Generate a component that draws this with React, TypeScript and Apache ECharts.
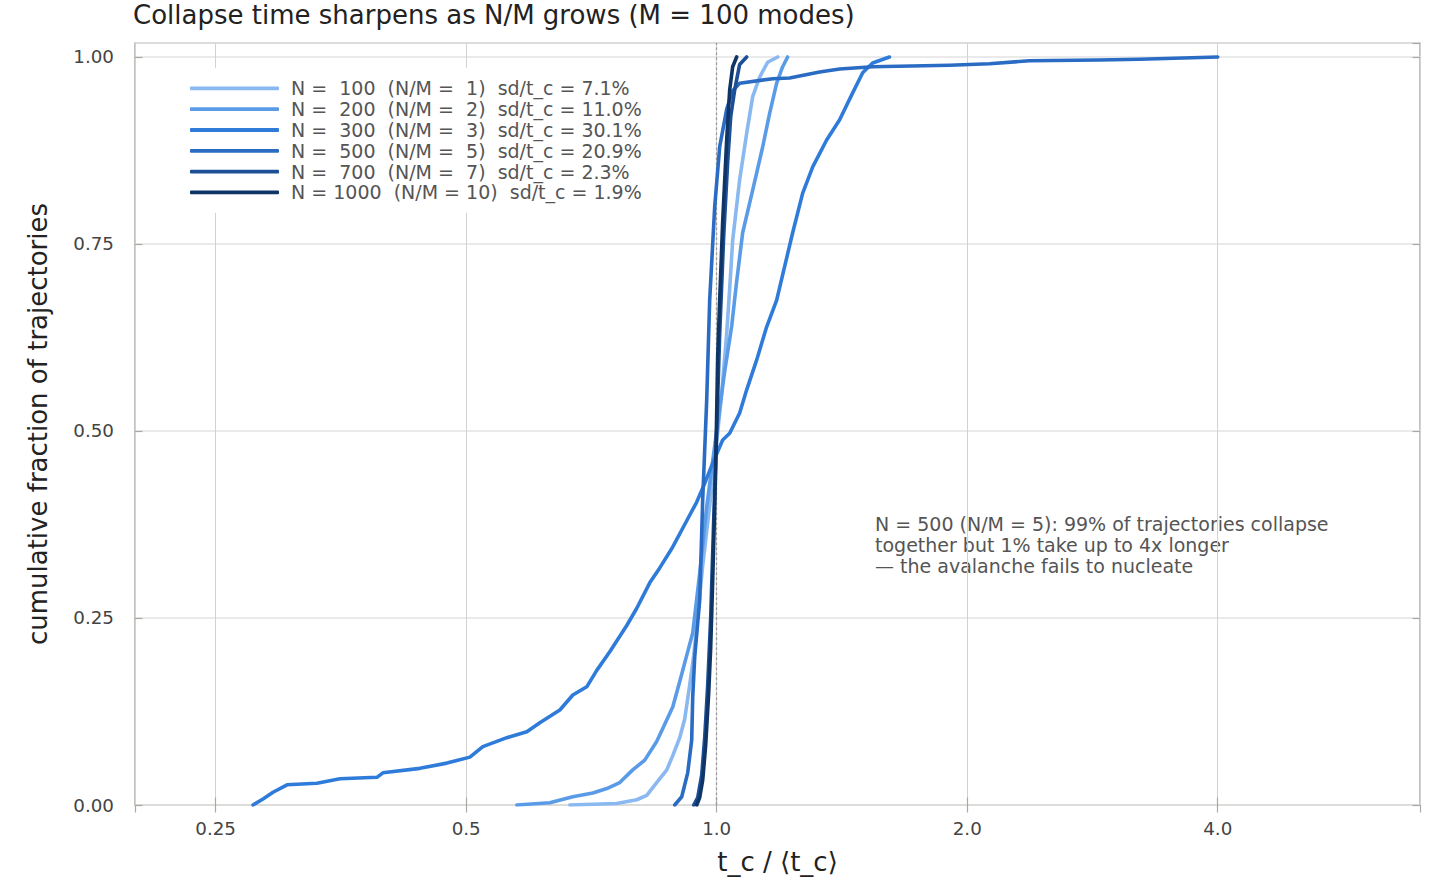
import React, { useEffect, useRef } from "react";
import * as echarts from "echarts";

const FONT = "DejaVu Sans";

const seriesNames = [
  "N =  100  (N/M =  1)  sd/t_c = 7.1%",
  "N =  200  (N/M =  2)  sd/t_c = 11.0%",
  "N =  300  (N/M =  3)  sd/t_c = 30.1%",
  "N =  500  (N/M =  5)  sd/t_c = 20.9%",
  "N =  700  (N/M =  7)  sd/t_c = 2.3%",
  "N = 1000  (N/M = 10)  sd/t_c = 1.9%",
];
const seriesColors = ["#8ab8f0", "#5a9be8", "#2f7bd9", "#2a6cc4", "#1c4f95", "#0f3566"];

// t_c / <t_c> values and cumulative fractions
const n100T = [0.666, 0.758, 0.8016, 0.824, 0.847, 0.871, 0.8855, 0.9028, 0.9153, 0.928, 0.9384, 0.9462, 0.962, 0.9808, 0.9945, 1.0139, 1.028, 1.0366, 1.0452, 1.0656, 1.0865, 1.1047, 1.1262, 1.1514, 1.1838];
const n100F = [0, 0.002, 0.007, 0.013, 0.03, 0.047, 0.066, 0.09, 0.115, 0.16, 0.2, 0.238, 0.32, 0.4, 0.46, 0.55, 0.63, 0.69, 0.755, 0.836, 0.898, 0.947, 0.973, 0.993, 1.0];

const n200T = [0.5752, 0.6302, 0.6716, 0.7098, 0.7378, 0.7648, 0.7927, 0.8195, 0.847, 0.8661, 0.8855, 0.9028, 0.9204, 0.9358, 0.9541, 0.9727, 0.989, 1.0083, 1.0224, 1.0423, 1.0568, 1.0745, 1.1047, 1.1358, 1.1579, 1.1805, 1.2002, 1.2168];
const n200F = [0, 0.003, 0.011, 0.016, 0.022, 0.03, 0.047, 0.06, 0.085, 0.108, 0.131, 0.165, 0.2, 0.23, 0.31, 0.398, 0.46, 0.53, 0.58, 0.64, 0.7, 0.765, 0.822, 0.88, 0.925, 0.965, 0.987, 1.0];

const n300T = [0.2772, 0.285, 0.293, 0.3046, 0.3309, 0.3526, 0.3906, 0.3971, 0.4399, 0.474, 0.5052, 0.5236, 0.5596, 0.5914, 0.613, 0.6479, 0.6716, 0.698, 0.7176, 0.7439, 0.7797, 0.8016, 0.8309, 0.8542, 0.8855, 0.9204, 0.9462, 0.9674, 0.989, 1.0167, 1.0366, 1.0656, 1.0865, 1.117, 1.148, 1.1805, 1.2069, 1.2339, 1.2686, 1.3043, 1.3555, 1.4052, 1.4567, 1.4976, 1.5393, 1.6128];
const n300F = [0, 0.008, 0.017, 0.027, 0.029, 0.035, 0.037, 0.043, 0.049, 0.056, 0.064, 0.078, 0.09, 0.098, 0.11, 0.127, 0.147, 0.158, 0.18, 0.205, 0.24, 0.263, 0.297, 0.317, 0.345, 0.38, 0.405, 0.43, 0.457, 0.488, 0.497, 0.524, 0.555, 0.595, 0.639, 0.675, 0.72, 0.765, 0.818, 0.853, 0.889, 0.916, 0.952, 0.979, 0.992, 1.0];

const n500T = [0.8904, 0.9078, 0.9229, 0.9332, 0.9358, 0.941, 0.9541, 0.962, 0.9727, 0.9808, 0.9945, 1.0083, 1.028, 1.0452, 1.0656, 1.1677, 1.2236, 1.3295, 1.4052, 1.5393, 1.905, 2.127, 2.375, 2.884, 3.222, 4.0];
const n500F = [0, 0.011, 0.043, 0.087, 0.144, 0.198, 0.274, 0.408, 0.541, 0.675, 0.8, 0.88, 0.93, 0.955, 0.965, 0.971, 0.972, 0.98, 0.984, 0.987, 0.989, 0.991, 0.995, 0.996, 0.997, 1.0];

const n700T = [0.9384, 0.9488, 0.9594, 0.9674, 0.9754, 0.9835, 0.9917, 1.0, 1.0083, 1.0195, 1.0309, 1.0395, 1.051, 1.0656, 1.0865];
const n700F = [0, 0.01, 0.04, 0.09, 0.16, 0.25, 0.38, 0.5, 0.63, 0.76, 0.86, 0.92, 0.956, 0.99, 1.0];

const n1000T = [0.9462, 0.9541, 0.962, 0.97, 0.9781, 0.9835, 0.989, 0.9972, 1.0028, 1.0083, 1.0167, 1.028, 1.0366, 1.0452, 1.0568];
const n1000F = [0, 0.01, 0.033, 0.08, 0.15, 0.21, 0.3, 0.45, 0.6, 0.675, 0.78, 0.889, 0.956, 0.987, 1.0];

const allT = [n100T, n200T, n300T, n500T, n700T, n1000T];
const allF = [n100F, n200F, n300F, n500F, n700F, n1000F];

const yTicks = [0, 0.25, 0.5, 0.75, 1.0];

const titleText = "Collapse time sharpens as N/M grows (M = 100 modes)";
const xLabel = "t_c / \u27e8t_c\u27e9";
const yLabel = "cumulative fraction of trajectories";
const noteLines = [
  "N = 500 (N/M = 5): 99% of trajectories collapse",
  "together but 1% take up to 4x longer",
  "\u2014 the avalanche fails to nucleate",
];

export default function App() {
  const ref = useRef<HTMLDivElement>(null);
  useEffect(() => {
    if (!ref.current) return;
    const chart = echarts.init(ref.current, undefined, { renderer: "svg" });
    const xFmt = (v: number) => (v >= 1 ? v.toFixed(1) : String(parseFloat(v.toFixed(3))));
    const tickStyle = { show: true, inside: true, length: 7.5, lineStyle: { color: "#a8a8a4", width: 1.2 } };
    const series: any[] = allT.map((ts, i) => ({
      name: seriesNames[i],
      type: "line",
      xAxisIndex: 0,
      yAxisIndex: 0,
      showSymbol: false,
      symbol: "none",
      data: ts.map((t, j) => [t, allF[i][j]]),
      lineStyle: { color: seriesColors[i], width: 3.6, join: "round", cap: "round" },
      itemStyle: { color: seriesColors[i] },
      z: 3 + i,
    }));
    series[series.length - 1].markLine = {
      silent: true,
      symbol: ["none", "none"],
      label: { show: false },
      lineStyle: { type: [2.5, 2.5], color: "#999999", width: 1.3 },
      data: [{ xAxis: 1 }],
    };
    chart.setOption({
      animation: false,
      textStyle: { fontFamily: FONT },
      title: {
        text: titleText,
        left: 133,
        top: 1,
        padding: 0,
        textStyle: { fontSize: 26, fontWeight: "normal", color: "#222222", fontFamily: FONT, lineHeight: 28 },
      },
      grid: {
        left: 135,
        top: 43,
        right: 20,
        bottom: 91,
        show: true,
        borderColor: "#b3b3ae",
        borderWidth: 1.6,
        backgroundColor: "transparent",
      },
      legend: {
        orient: "vertical",
        left: 180,
        top: 68,
        padding: [10, 10, 10, 10],
        backgroundColor: "#ffffff",
        itemWidth: 89,
        itemHeight: 3.8,
        itemGap: 0,
        icon: "roundRect",
        data: seriesNames,
        textStyle: { fontSize: 19, color: "#555555", fontFamily: FONT, lineHeight: 20.8, padding: [0, 0, 0, 7] },
        z: 10,
      },
      xAxis: [
        {
          type: "log",
          logBase: 2,
          min: 0.2,
          max: 7,
          position: "bottom",
          axisLine: { show: false },
          axisTick: tickStyle,
          axisLabel: { show: true, margin: 14, fontSize: 18.3, color: "#444444", fontFamily: FONT, formatter: xFmt, showMinLabel: false, showMaxLabel: false },
          splitLine: { show: true, lineStyle: { color: "#d2d2d2", width: 1 } },
          minorTick: { show: false },
        },
        {
          type: "log",
          logBase: 2,
          min: 0.2,
          max: 7,
          position: "top",
          axisLine: { show: false },
          axisTick: tickStyle,
          axisLabel: { show: false },
          splitLine: { show: false },
        },
      ],
      yAxis: [
        {
          type: "value",
          min: 0,
          max: 1.0187,
          interval: 0.25,
          position: "left",
          axisLine: { show: false },
          axisTick: tickStyle,
          axisLabel: {
            show: true,
            margin: 21,
            fontSize: 18.3,
            color: "#444444",
            fontFamily: FONT,
            showMaxLabel: false,
            formatter: (v: number) => (yTicks.some((t) => Math.abs(t - v) < 1e-9) ? v.toFixed(2) : ""),
          },
          splitLine: { show: true, lineStyle: { color: "#e3e3e3", width: 1.5 } },
        },
        {
          type: "value",
          min: 0,
          max: 1.0187,
          interval: 0.25,
          position: "right",
          axisLine: { show: false },
          axisTick: tickStyle,
          axisLabel: { show: false },
          splitLine: { show: false },
        },
      ],
      graphic: [
        {
          type: "text",
          x: 777.5,
          y: 862,
          style: { text: xLabel, fontSize: 26, fill: "#222222", fontFamily: FONT, textAlign: "center", textVerticalAlign: "middle" },
        },
        {
          type: "text",
          x: 38,
          y: 424,
          rotation: Math.PI / 2,
          style: { text: yLabel, fontSize: 26, fill: "#222222", fontFamily: FONT, textAlign: "center", textVerticalAlign: "middle" },
        },
        {
          type: "text",
          x: 875,
          y: 514,
          style: { text: noteLines.join("\n"), fontSize: 19, lineHeight: 20.7, fill: "#555555", fontFamily: FONT, textAlign: "left", textVerticalAlign: "top" },
        },
      ],
      series,
    });
    return () => chart.dispose();
  }, []);
  return <div ref={ref} style={{ position: "fixed", left: 0, top: 0, width: 1440, height: 896, background: "#ffffff" }} />;
}
